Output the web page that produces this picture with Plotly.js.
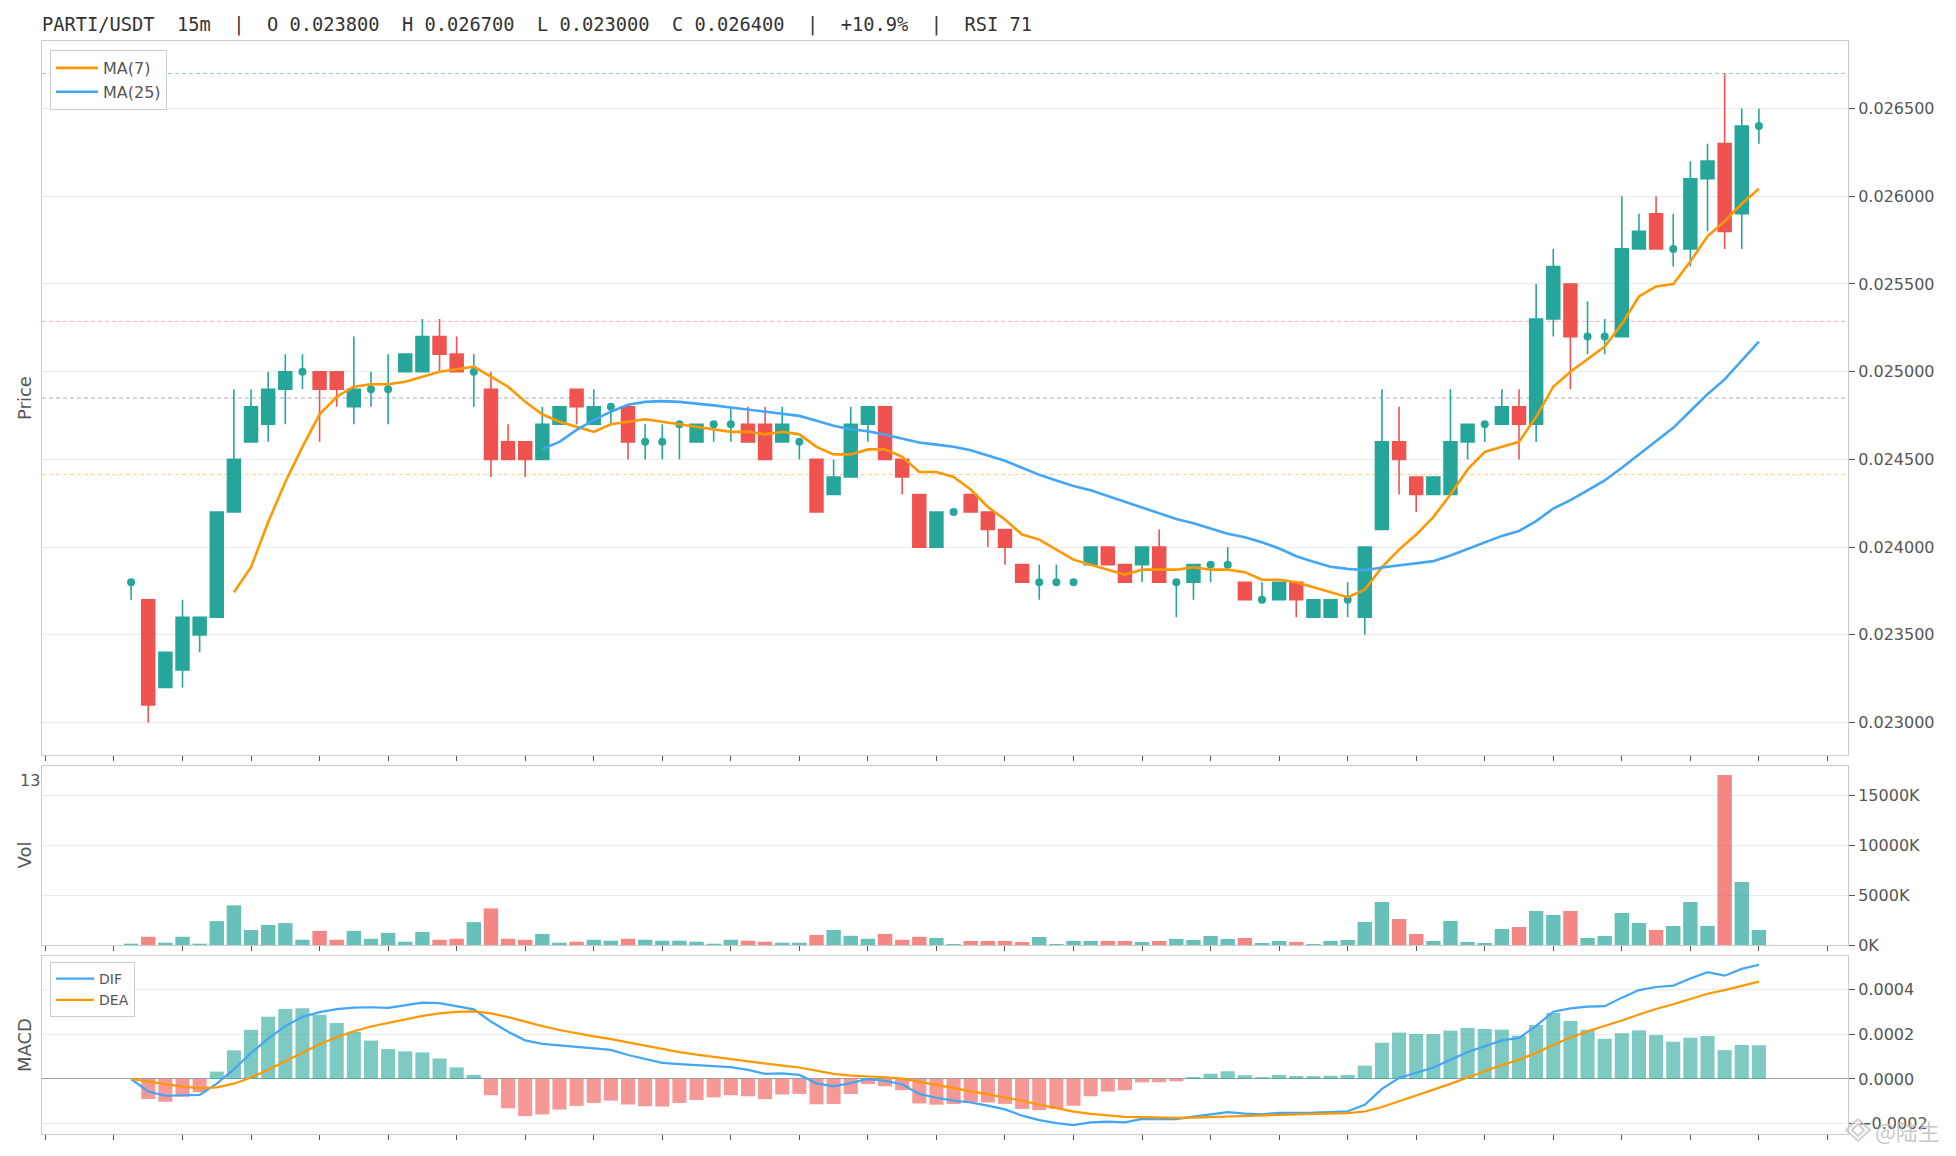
<!DOCTYPE html>
<html>
<head>
<meta charset="utf-8">
<script src="https://cdn.plot.ly/plotly-3.0.1.min.js"></script>
<style>
  html, body { margin: 0; padding: 0; background: #ffffff; }
  #chart { width: 1956px; height: 1156px; }
</style>
</head>
<body>
<div id="chart"></div>
<script>
// ---- Data (15m candles, index 0..95) ----
const opens = [
  0.0238,0.0237,0.0232,0.0233,0.0235,0.0236,0.0242,0.0246,0.0247,0.0249,
  0.0250,0.0250,0.0250,0.0248,0.0249,0.0249,0.0250,0.0250,0.0252,0.0251,
  0.0250,0.0249,0.0246,0.0246,0.0245,0.0247,0.0249,0.0247,0.0248,0.0248,
  0.0246,0.0246,0.0247,0.0246,0.0247,0.0247,0.0247,0.0247,0.0246,0.0246,
  0.0245,0.0243,0.0244,0.0247,0.0248,0.0245,0.0243,0.0240,0.0242,0.0243,
  0.0242,0.0241,0.0239,0.0238,0.0238,0.0238,0.0239,0.0240,0.0239,0.0239,
  0.0240,0.0238,0.0238,0.0239,0.0239,0.0238,0.0237,0.0237,0.0238,0.0236,
  0.0236,0.0237,0.0236,0.0241,0.0246,0.0244,0.0243,0.0243,0.0246,0.0247,
  0.0247,0.0248,0.0247,0.0253,0.0255,0.0252,0.0252,0.0252,0.0257,0.0259,
  0.0257,0.0257,0.0261,0.0263,0.0259,0.0264
];
const highs = [
  0.0238,0.0237,0.0234,0.0237,0.0236,0.0242,0.0249,0.0249,0.0250,0.0251,
  0.0251,0.0250,0.0250,0.0252,0.0250,0.0251,0.0251,0.0253,0.0253,0.0252,
  0.0251,0.0250,0.0247,0.0246,0.0248,0.0248,0.0249,0.0249,0.0248,0.0248,
  0.0247,0.0247,0.0247,0.0247,0.0247,0.0248,0.0248,0.0248,0.0248,0.0246,
  0.0245,0.0245,0.0248,0.0248,0.0248,0.0245,0.0243,0.0242,0.0242,0.0243,
  0.0242,0.0241,0.0239,0.0239,0.0239,0.0238,0.0240,0.0240,0.0239,0.0240,
  0.0241,0.0238,0.0239,0.0239,0.0240,0.0238,0.0238,0.0238,0.0238,0.0237,
  0.0237,0.0238,0.0240,0.0249,0.0248,0.0244,0.0244,0.0249,0.0247,0.0247,
  0.0249,0.0249,0.0255,0.0257,0.0255,0.0254,0.0253,0.0260,0.0259,0.0260,
  0.0259,0.0262,0.0263,0.0267,0.0265,0.0265
];
const lows = [
  0.0237,0.0230,0.0232,0.0232,0.0234,0.0236,0.0242,0.0246,0.0246,0.0247,
  0.0249,0.0246,0.0248,0.0247,0.0248,0.0247,0.0250,0.0250,0.0250,0.0250,
  0.0248,0.0244,0.0245,0.0244,0.0245,0.0247,0.0247,0.0247,0.0247,0.0245,
  0.0245,0.0245,0.0245,0.0246,0.0246,0.0246,0.0246,0.0245,0.0246,0.0245,
  0.0242,0.0243,0.0244,0.0246,0.0245,0.0243,0.0240,0.0240,0.0242,0.0242,
  0.0240,0.0239,0.0238,0.0237,0.0238,0.0238,0.0239,0.0239,0.0238,0.0238,
  0.0238,0.0236,0.0237,0.0238,0.0239,0.0237,0.0237,0.0237,0.0236,0.0236,
  0.0236,0.0236,0.0235,0.0241,0.0243,0.0242,0.0243,0.0243,0.0245,0.0246,
  0.0247,0.0245,0.0246,0.0252,0.0249,0.0251,0.0251,0.0252,0.0257,0.0257,
  0.0256,0.0256,0.0258,0.0257,0.0257,0.0263
];
const closes = [
  0.0238,0.0231,0.0234,0.0236,0.0236,0.0242,0.0245,0.0248,0.0249,0.0250,
  0.0250,0.0249,0.0249,0.0249,0.0249,0.0249,0.0251,0.0252,0.0251,0.0250,
  0.0250,0.0245,0.0245,0.0245,0.0247,0.0248,0.0248,0.0248,0.0248,0.0246,
  0.0246,0.0246,0.0247,0.0247,0.0247,0.0247,0.0246,0.0245,0.0247,0.0246,
  0.0242,0.0244,0.0247,0.0248,0.0245,0.0244,0.0240,0.0242,0.0242,0.0242,
  0.0241,0.0240,0.0238,0.0238,0.0238,0.0238,0.0240,0.0239,0.0238,0.0240,
  0.0238,0.0238,0.0239,0.0239,0.0239,0.0237,0.0237,0.0238,0.0237,0.0237,
  0.0237,0.0237,0.0240,0.0246,0.0245,0.0243,0.0244,0.0246,0.0247,0.0247,
  0.0248,0.0247,0.0253,0.0256,0.0252,0.0252,0.0252,0.0257,0.0258,0.0257,
  0.0257,0.0261,0.0262,0.0258,0.0264,0.0264
];
// volume in thousands (K)
const volumesK = [
  130,820,230,820,130,2390,3960,1500,2000,2190,
  520,1410,520,1410,620,1210,330,1310,520,620,
  2290,3660,620,520,1110,230,330,520,430,620,
  520,430,430,330,130,520,430,330,230,230,
  1010,1500,920,620,1110,520,820,710,100,400,
  400,400,300,800,100,400,400,400,400,300,
  400,600,500,900,600,700,200,400,300,100,
  400,500,2300,4300,2600,1100,400,2400,300,200,
  1600,1800,3400,3000,3400,700,900,3200,2200,1500,
  1900,4300,1900,17000,6300,1500
];
const fibRatios = [0, 0.382, 0.5, 0.618, 1];
const fibColors = ['rgba(38,166,154,0.55)','rgba(239,83,80,0.45)','rgba(110,110,110,0.55)','rgba(255,152,0,0.45)','rgba(38,166,154,0.55)'];
const priceTicks = [0.0230,0.0235,0.0240,0.0245,0.0250,0.0255,0.0260,0.0265];
const titleParts = ['PARTI/USDT','15m','|','O 0.023800','H 0.026700','L 0.023000','C 0.026400','|','+10.9%','|','RSI 71'];

// ---- Derived series (indicators computed from the closes, as the chart does) ----
const n = closes.length;
const idx = closes.map((_, i) => i);
function sma(arr, p) {
  return arr.map((_, i) => {
    if (i < p - 1) return null;
    let s = 0; for (let k = i - p + 1; k <= i; k++) s += arr[k];
    return s / p;
  });
}
function ema(arr, p) {
  const a = 2 / (p + 1); const out = [];
  arr.forEach((v, i) => out.push(i === 0 ? v : v * a + out[i - 1] * (1 - a)));
  return out;
}
const ma7 = sma(closes, 7);
const ma25 = sma(closes, 25);
const e12 = ema(closes, 12), e26 = ema(closes, 26);
const dif = e12.map((v, i) => v - e26[i]);
const dea = ema(dif, 9);
const hist = dif.map((v, i) => 2 * (v - dea[i]));

const UP = '#26a69a', DOWN = '#ef5350';
const isDoji = idx.map(i => opens[i] === closes[i]);
const upDir = idx.map(i => closes[i] >= opens[i]);

// candles (non-doji)
const cx = [], co = [], ch = [], cl = [], cc = [];
idx.forEach(i => { if (!isDoji[i]) { cx.push(i); co.push(opens[i]); ch.push(highs[i]); cl.push(lows[i]); cc.push(closes[i]); } });
// doji: wick + dot
const dwx = [], dwy = [], ddx = [], ddy = [];
idx.forEach(i => { if (isDoji[i]) { dwx.push(i, i, null); dwy.push(lows[i], highs[i], null); ddx.push(i); ddy.push(closes[i]); } });

const hi = Math.max(...highs), lo = Math.min(...lows);
const pad = (hi - lo) * 0.05;

const traces = [
  { type: 'candlestick', x: cx, open: co, high: ch, low: cl, close: cc, xaxis: 'x', yaxis: 'y',
    increasing: { line: { color: UP, width: 1.6 }, fillcolor: UP },
    decreasing: { line: { color: DOWN, width: 1.6 }, fillcolor: DOWN },
    whiskerwidth: 0, showlegend: false, hoverinfo: 'skip' },
  { type: 'scatter', mode: 'lines', x: dwx, y: dwy, xaxis: 'x', yaxis: 'y', line: { color: UP, width: 1.6 },
    showlegend: false, hoverinfo: 'skip', connectgaps: false },
  { type: 'scatter', mode: 'markers', x: ddx, y: ddy, xaxis: 'x', yaxis: 'y', marker: { color: UP, size: 8 },
    showlegend: false, hoverinfo: 'skip' },
  { type: 'scatter', mode: 'lines', x: idx, y: ma7, name: 'MA(7)', xaxis: 'x', yaxis: 'y',
    line: { color: '#ff9800', width: 2.6 }, legend: 'legend' },
  { type: 'scatter', mode: 'lines', x: idx, y: ma25, name: 'MA(25)', xaxis: 'x', yaxis: 'y',
    line: { color: '#42a5f5', width: 2.6 }, legend: 'legend' },
  { type: 'bar', x: idx, y: volumesK, xaxis: 'x2', yaxis: 'y2', width: 0.84,
    marker: { color: idx.map(i => upDir[i] ? 'rgba(38,166,154,0.7)' : 'rgba(239,83,80,0.7)'), line: { width: 0 } },
    showlegend: false, hoverinfo: 'skip' },
  { type: 'bar', x: idx, y: hist, xaxis: 'x3', yaxis: 'y3', width: 0.82,
    marker: { color: hist.map(v => v >= 0 ? 'rgba(38,166,154,0.6)' : 'rgba(239,83,80,0.6)'), line: { width: 0 } },
    showlegend: false, hoverinfo: 'skip' },
  { type: 'scatter', mode: 'lines', x: idx, y: dif, name: 'DIF', xaxis: 'x3', yaxis: 'y3',
    line: { color: '#42a5f5', width: 2.2 }, legend: 'legend2' },
  { type: 'scatter', mode: 'lines', x: idx, y: dea, name: 'DEA', xaxis: 'x3', yaxis: 'y3',
    line: { color: '#ff9800', width: 2.2 }, legend: 'legend2' }
];

const W = 1956, H = 1156, L = 42, R = 108, T = 41, B = 22;
const PW = W - L - R, PH = H - T - B;
const py = p => (H - B - p) / PH;   // pixel y -> paper y
const px = p => (p - L) / PW;       // pixel x -> paper x

const tickFont = { family: 'DejaVu Sans, sans-serif', size: 16, color: '#555' };
const xCommon = {
  range: [-5.2, 100.2], showgrid: false, zeroline: false, showticklabels: false,
  ticks: 'outside', ticklen: 5, tickcolor: '#555', tickmode: 'linear', tick0: -1, dtick: 4,
  showline: true, mirror: true, linecolor: '#cccccc', linewidth: 1,
  rangeslider: { visible: false }
};
const yCommon = {
  side: 'right', showgrid: true, gridcolor: '#ebebeb', zeroline: false,
  ticks: 'outside', ticklen: 6, tickcolor: '#555', tickfont: tickFont,
  showline: true, mirror: true, linecolor: '#cccccc', linewidth: 1
};

const shapes = fibRatios.map((r, k) => ({
  type: 'line', xref: 'x domain', yref: 'y', x0: 0, x1: 1,
  y0: hi - r * (hi - lo), y1: hi - r * (hi - lo),
  line: { color: fibColors[k], width: 1, dash: '4px,3px' }, layer: 'below'
}));
// watermark logo (decorative outline)
shapes.push({
  type: 'path', xref: 'paper', yref: 'paper',
  path: `M ${px(1846)} ${py(1130)} L ${px(1858)} ${py(1119)} L ${px(1870)} ${py(1130)} L ${px(1858)} ${py(1141)} Z ` +
        `M ${px(1852)} ${py(1130)} L ${px(1858)} ${py(1124)} L ${px(1864)} ${py(1130)} L ${px(1858)} ${py(1136)} Z`,
  line: { color: 'rgba(200,200,200,0.85)', width: 2 }, layer: 'above'
});

const layout = {
  width: W, height: H,
  margin: { l: L, r: R, t: T, b: B },
  paper_bgcolor: '#ffffff', plot_bgcolor: '#ffffff',
  font: { family: 'DejaVu Sans, sans-serif', color: '#555' },
  title: {
    text: titleParts.join('\u00a0\u00a0'),
    x: 0, xref: 'paper', xanchor: 'left', y: 1 - 24 / H, yref: 'container', yanchor: 'middle',
    font: { family: 'DejaVu Sans Mono, monospace', size: 18.7, color: '#333' }
  },
  xaxis: Object.assign({}, xCommon, { anchor: 'y', domain: [0, 1] }),
  xaxis2: Object.assign({}, xCommon, { anchor: 'y2', matches: 'x', domain: [0, 1] }),
  xaxis3: Object.assign({}, xCommon, { anchor: 'y3', matches: 'x', domain: [0, 1] }),
  yaxis: Object.assign({}, yCommon, { anchor: 'x', domain: [py(755), 1], range: [lo - pad, hi + pad],
    tickmode: 'array', tickvals: priceTicks, tickformat: '.6f' }),
  yaxis2: Object.assign({}, yCommon, { anchor: 'x2', domain: [py(945), py(766)], range: [0, 17900],
    tickmode: 'linear', tick0: 0, dtick: 5000, tickformat: 'd', ticksuffix: 'K' }),
  yaxis3: Object.assign({}, yCommon, { anchor: 'x3', domain: [0, py(956)], range: [-0.000246, 0.00055],
    tickmode: 'linear', tick0: 0, dtick: 0.0002, tickformat: '.4f',
    zeroline: true, zerolinecolor: '#9e9e9e', zerolinewidth: 1 }),
  showlegend: true,
  legend: { x: px(50), y: py(50), xanchor: 'left', yanchor: 'top', bgcolor: '#ffffff',
    bordercolor: '#cccccc', borderwidth: 1, font: { family: 'DejaVu Sans, sans-serif', size: 16, color: '#555' },
    itemwidth: 42, tracegroupgap: 0 },
  legend2: { x: px(50), y: py(962), xanchor: 'left', yanchor: 'top', bgcolor: '#ffffff',
    bordercolor: '#cccccc', borderwidth: 1, font: { family: 'DejaVu Sans, sans-serif', size: 14, color: '#555' },
    itemwidth: 38, tracegroupgap: 0 },
  boxgap: 0.25, boxgroupgap: 0,
  bargap: 0.15,
  shapes: shapes,
  annotations: [
    { text: 'Price', xref: 'paper', yref: 'paper', x: px(24), y: (py(755) + 1) / 2, textangle: -90,
      showarrow: false, xanchor: 'center', yanchor: 'middle', font: { size: 18, color: '#555' } },
    { text: 'Vol', xref: 'paper', yref: 'paper', x: px(24), y: (py(945) + py(766)) / 2, textangle: -90,
      showarrow: false, xanchor: 'center', yanchor: 'middle', font: { size: 18, color: '#555' } },
    { text: 'MACD', xref: 'paper', yref: 'paper', x: px(24), y: py(956) / 2, textangle: -90,
      showarrow: false, xanchor: 'center', yanchor: 'middle', font: { size: 18, color: '#555' } },
    { text: '13', xref: 'paper', yref: 'paper', x: 0, y: py(781), xanchor: 'right', yanchor: 'middle',
      showarrow: false, font: { size: 16, color: '#555' } },
    { text: '@陆生', xref: 'paper', yref: 'paper', x: px(1873), y: py(1130), xanchor: 'left', yanchor: 'middle',
      showarrow: false, font: { family: 'Noto Sans CJK SC, sans-serif', size: 22, color: 'rgba(190,190,190,0.85)' } }
  ]
};

Plotly.newPlot('chart', traces, layout, { displayModeBar: false, staticPlot: true });
</script>
</body>
</html>
